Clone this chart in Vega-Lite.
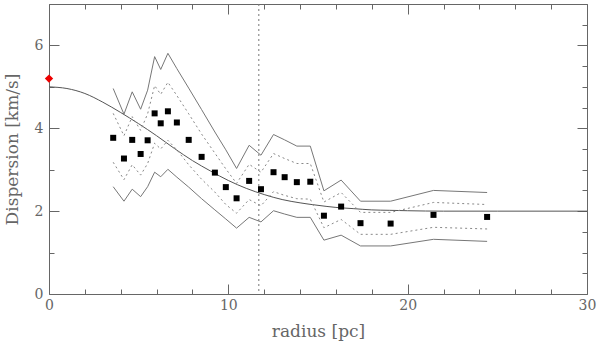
{
  "$schema": "https://vega.github.io/schema/vega-lite/v6.json",
  "autosize": {"type": "none"},
  "padding": {"left": 49, "top": 4, "right": 13, "bottom": 48},
  "width": 538,
  "height": 290,
  "background": "white",
  "config": {
    "view": {"stroke": "#666666", "strokeWidth": 1},
    "axis": {
      "grid": false,
      "domain": false,
      "labelOverlap": false,
      "labelFont": "DejaVu Serif",
      "labelFontSize": 14,
      "labelColor": "#666666",
      "titleFont": "DejaVu Serif",
      "titleFontSize": 17,
      "titleFontWeight": "normal",
      "titleColor": "#666666",
      "tickColor": "#666666",
      "tickWidth": 1
    }
  },
  "resolve": {"axis": {"x": "independent", "y": "independent"}},
  "datasets": {
    "model": [
      {"r": 0, "s": 5.0}, {"r": 1, "s": 4.96}, {"r": 2, "s": 4.84}, {"r": 3, "s": 4.63},
      {"r": 4, "s": 4.38}, {"r": 5, "s": 4.11}, {"r": 6, "s": 3.82}, {"r": 7, "s": 3.51},
      {"r": 8, "s": 3.22}, {"r": 9, "s": 2.97}, {"r": 10, "s": 2.74}, {"r": 11, "s": 2.55},
      {"r": 12, "s": 2.40}, {"r": 13, "s": 2.28}, {"r": 14, "s": 2.20}, {"r": 15, "s": 2.14},
      {"r": 16, "s": 2.09}, {"r": 17, "s": 2.06}, {"r": 18, "s": 2.03}, {"r": 19, "s": 2.02},
      {"r": 20, "s": 2.01}, {"r": 22, "s": 2.0}, {"r": 25, "s": 2.0}, {"r": 30, "s": 2.0}
    ],
    "obs": [
      {"r": 3.58, "s": 3.77, "u2": 4.96, "u1": 4.36, "l1": 3.18, "l2": 2.59},
      {"r": 4.18, "s": 3.27, "u2": 4.34, "u1": 3.82, "l1": 2.76, "l2": 2.24},
      {"r": 4.64, "s": 3.72, "u2": 4.88, "u1": 4.28, "l1": 3.12, "l2": 2.53},
      {"r": 5.11, "s": 3.38, "u2": 4.46, "u1": 3.95, "l1": 2.87, "l2": 2.35},
      {"r": 5.50, "s": 3.71, "u2": 4.92, "u1": 4.35, "l1": 3.15, "l2": 2.59},
      {"r": 5.89, "s": 4.36, "u2": 5.73, "u1": 5.03, "l1": 3.64, "l2": 2.94},
      {"r": 6.23, "s": 4.12, "u2": 5.42, "u1": 4.82, "l1": 3.50, "l2": 2.83},
      {"r": 6.63, "s": 4.41, "u2": 5.81, "u1": 5.11, "l1": 3.71, "l2": 3.01},
      {"r": 7.13, "s": 4.14, "u2": 5.44, "u1": 4.79, "l1": 3.48, "l2": 2.82},
      {"r": 7.79, "s": 3.72, "u2": 4.97, "u1": 4.35, "l1": 3.12, "l2": 2.58},
      {"r": 8.51, "s": 3.31, "u2": 4.45, "u1": 3.86, "l1": 2.77, "l2": 2.30},
      {"r": 9.25, "s": 2.93, "u2": 3.91, "u1": 3.40, "l1": 2.46, "l2": 2.03},
      {"r": 9.86, "s": 2.58, "u2": 3.48, "u1": 3.02, "l1": 2.16, "l2": 1.81},
      {"r": 10.46, "s": 2.31, "u2": 3.03, "u1": 2.67, "l1": 1.95, "l2": 1.59},
      {"r": 11.16, "s": 2.73, "u2": 3.59, "u1": 3.13, "l1": 2.28, "l2": 1.85},
      {"r": 11.82, "s": 2.53, "u2": 3.35, "u1": 2.94, "l1": 2.13, "l2": 1.74},
      {"r": 12.52, "s": 2.94, "u2": 3.85, "u1": 3.39, "l1": 2.47, "l2": 2.01},
      {"r": 13.14, "s": 2.82, "u2": 3.72, "u1": 3.27, "l1": 2.38, "l2": 1.93},
      {"r": 13.82, "s": 2.70, "u2": 3.57, "u1": 3.15, "l1": 2.30, "l2": 1.85},
      {"r": 14.57, "s": 2.71, "u2": 3.57, "u1": 3.15, "l1": 2.29, "l2": 1.85},
      {"r": 15.33, "s": 1.89, "u2": 2.49, "u1": 2.22, "l1": 1.60, "l2": 1.30},
      {"r": 16.29, "s": 2.11, "u2": 2.75, "u1": 2.45, "l1": 1.80, "l2": 1.42},
      {"r": 17.37, "s": 1.71, "u2": 2.24, "u1": 1.97, "l1": 1.44, "l2": 1.16},
      {"r": 19.05, "s": 1.70, "u2": 2.24, "u1": 1.97, "l1": 1.44, "l2": 1.16},
      {"r": 21.44, "s": 1.91, "u2": 2.50, "u1": 2.21, "l1": 1.61, "l2": 1.32},
      {"r": 24.43, "s": 1.86, "u2": 2.45, "u1": 2.16, "l1": 1.57, "l2": 1.27}
    ],
    "vline": [{"r": 11.7}],
    "centre": [{"r": 0, "s": 5.2}]
  },
  "layer": [
    {
      "data": {"name": "model"},
      "mark": {"type": "line", "color": "#555555", "strokeWidth": 1, "interpolate": "monotone"},
      "encoding": {
        "x": {
          "field": "r", "type": "quantitative",
          "scale": {"domain": [0, 30], "nice": false, "zero": false},
          "axis": {
            "title": "radius [pc]",
            "values": [0, 2, 4, 6, 8, 10, 12, 14, 16, 18, 20, 22, 24, 26, 28, 30],
            "tickCount": 100,
            "format": "d",
            "labelOpacity": {"condition": {"test": "datum.value % 10 === 0", "value": 1}, "value": 0},
            "tickSize": {"condition": {"test": "datum.value % 10 === 0", "value": -10}, "value": -5},
            "labelPadding": 14,
            "labelFlush": false,
            "labelBound": false,
            "labelOverlap": false,
            "titlePadding": 6
          }
        },
        "y": {
          "field": "s", "type": "quantitative",
          "scale": {"domain": [0, 7], "nice": false, "zero": false},
          "axis": {
            "title": "Dispersion [km/s]",
            "values": [0, 0.5, 1, 1.5, 2, 2.5, 3, 3.5, 4, 4.5, 5, 5.5, 6, 6.5, 7],
            "tickCount": 100,
            "format": "d",
            "labelOpacity": {"condition": {"test": "datum.value % 2 === 0", "value": 1}, "value": 0},
            "tickSize": {"condition": {"test": "datum.value % 2 === 0", "value": -10}, "value": -5},
            "labelPadding": 16,
            "labelFlush": false,
            "labelOverlap": false,
            "titlePadding": 8
          }
        }
      }
    },
    {
      "data": {"name": "vline"},
      "mark": {"type": "rule", "color": "#777777", "strokeWidth": 1, "strokeDash": [2, 3]},
      "encoding": {"x": {"field": "r", "type": "quantitative", "axis": null}}
    },
    {
      "data": {"name": "obs"},
      "mark": {"type": "line", "color": "#777777", "strokeWidth": 1},
      "encoding": {"x": {"field": "r", "type": "quantitative", "axis": null}, "y": {"field": "u2", "type": "quantitative", "axis": null}}
    },
    {
      "data": {"name": "obs"},
      "mark": {"type": "line", "color": "#777777", "strokeWidth": 1},
      "encoding": {"x": {"field": "r", "type": "quantitative", "axis": null}, "y": {"field": "l2", "type": "quantitative", "axis": null}}
    },
    {
      "data": {"name": "obs"},
      "mark": {"type": "line", "color": "#888888", "strokeWidth": 1, "strokeDash": [2, 3]},
      "encoding": {"x": {"field": "r", "type": "quantitative", "axis": null}, "y": {"field": "u1", "type": "quantitative", "axis": null}}
    },
    {
      "data": {"name": "obs"},
      "mark": {"type": "line", "color": "#888888", "strokeWidth": 1, "strokeDash": [2, 3]},
      "encoding": {"x": {"field": "r", "type": "quantitative", "axis": null}, "y": {"field": "l1", "type": "quantitative", "axis": null}}
    },
    {
      "data": {"name": "obs"},
      "mark": {"type": "point", "shape": "square", "filled": true, "color": "#000000", "size": 36, "opacity": 1},
      "encoding": {"x": {"field": "r", "type": "quantitative", "axis": null}, "y": {"field": "s", "type": "quantitative", "axis": null}}
    },
    {
      "data": {"name": "centre"},
      "mark": {"type": "point", "shape": "diamond", "filled": true, "color": "#ee0000", "size": 70, "opacity": 1, "clip": false},
      "encoding": {
        "x": {
          "field": "r", "type": "quantitative",
          "axis": {
            "orient": "top",
            "title": null,
            "labels": false,
            "values": [0, 2, 4, 6, 8, 10, 12, 14, 16, 18, 20, 22, 24, 26, 28, 30],
            "tickCount": 100,
            "tickSize": {"condition": {"test": "datum.value % 10 === 0", "value": -10}, "value": -5}
          }
        },
        "y": {
          "field": "s", "type": "quantitative",
          "axis": {
            "orient": "right",
            "title": null,
            "labels": false,
            "values": [0, 0.5, 1, 1.5, 2, 2.5, 3, 3.5, 4, 4.5, 5, 5.5, 6, 6.5, 7],
            "tickCount": 100,
            "tickSize": {"condition": {"test": "datum.value % 2 === 0", "value": -10}, "value": -5}
          }
        }
      }
    }
  ]
}
